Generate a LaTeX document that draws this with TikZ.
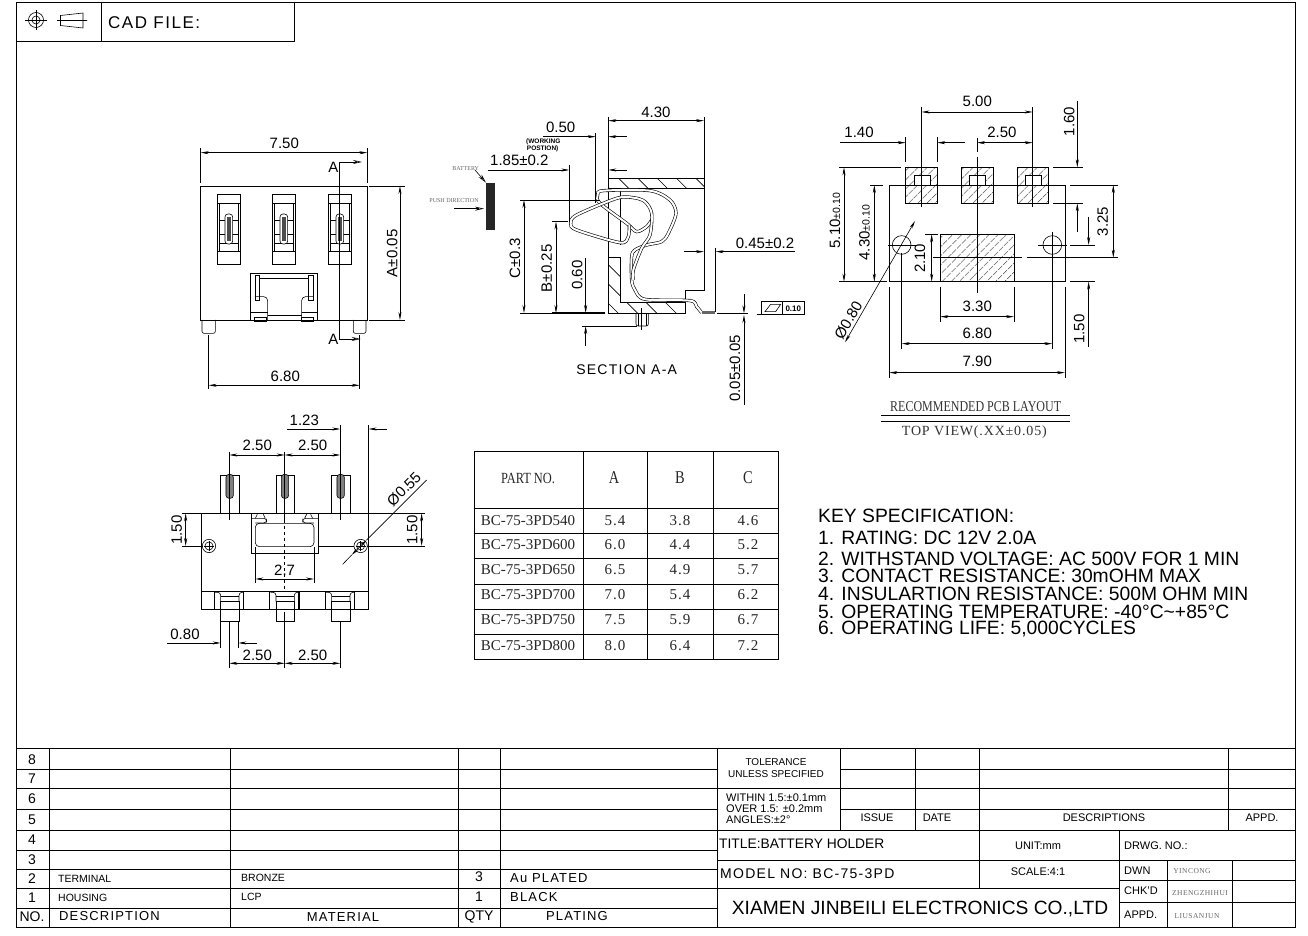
\documentclass[tikz,border=0pt]{standalone}
\usepackage{fontspec}
\usetikzlibrary{arrows.meta,patterns.meta}
\setmainfont{Liberation Sans}
\newfontfamily\serifcad[LetterSpace=6]{Liberation Serif}
\newfontfamily\serifnarrow[FakeStretch=.8]{Liberation Serif}
\newfontfamily\serifplain{Liberation Serif}
\newfontfamily\widecad[LetterSpace=9]{Liberation Sans}
\tikzset{
	view/.style={x=.3333pt, y=-.3333pt},
	thin line/.style={line width=.6pt},
	part/.style={line width=.9pt},
	heavy/.style={line width=1.6pt},
	dimline/.style={line width=.6pt, <->, >={Stealth[length=8pt,width=3pt]}},
	leader/.style={line width=.6pt, ->, >={Stealth[length=8pt,width=3pt]}},
	opentip/.style={line width=.6pt, ->, >={Stealth[open,length=9pt,width=4pt]}},
	dimtext/.style={inner sep=0pt, font=\fontsize{15}{15}\selectfont},
	note/.style={inner sep=0pt, text=gray!80!black, font=\serifplain\fontsize{6}{7}\selectfont},
	signer/.style={inner sep=0pt, text=gray!80!black, font=\serifcad\fontsize{7.5}{8}\selectfont},
	pcbtext/.style={inner sep=0pt, text=black!80, font=\serifnarrow\fontsize{15}{15}\selectfont},
	cell/.style={inner sep=0pt, text=black!85, font=\serifplain\fontsize{15}{15}\selectfont},
	cellvalue/.style={inner sep=0pt, text=black!85, font=\serifcad\fontsize{15}{15}\selectfont},
	cellhead/.style={inner sep=0pt, text=black!85, font=\serifnarrow\fontsize{18}{18}\selectfont},
	spec/.style={inner sep=0pt, anchor=west, font=\fontsize{19.3}{19}\selectfont},
	tabletext/.style={inner sep=0pt, font=\fontsize{14}{14}\selectfont},
	smalltext/.style={inner sep=0pt, anchor=west, font=\fontsize{10.5}{11}\selectfont},
	widetext/.style={inner sep=0pt, font=\widecad\fontsize{13}{13}\selectfont},
	tiny label/.style={inner sep=0pt, font=\fontsize{11}{11}\selectfont},
	tol label/.style={inner sep=0pt, font=\fontsize{10}{10}\selectfont},
	strip/.style={line width=.6pt, double, double distance=2pt},
	hatch a/.style={pattern={Lines[angle=45,distance=6.5pt,line width=.7pt]}},
}
\begin{document}
\begin{tikzpicture}[x=1pt, y=-1pt]
	\useasboundingbox (0,0) rectangle (1308,936);

	% frame and header
	\draw[part] (16,927) -- (16,2) -- (1295,2) -- (1295,927) -- cycle;
	\draw[part] (16,41) -- (294,41) -- (294,2);
	\draw[part] (101,2) -- (101,41);
	\draw[thin line] (36,20) circle (7.5) (36,20) circle (4);
	\draw[thin line] (25,20) -- (47,20) (36,10) -- (36,30);
	\draw[thin line] (60.5,15.5) -- (83,13) -- (83,28) -- (60.5,25.5) -- cycle (57,20.5) -- (87,20.5);
	\node[inner sep=0pt, anchor=west, font=\widecad\fontsize{17}{17}\selectfont] at (108,23) (cadfile) {CAD FILE:};

	% front view
	\begin{scope}[shift={(150,120)}, view]
		\draw[part] (152,198) rectangle (652,600);
		\foreach \dx in {0,165,333} {
			\begin{scope}[xshift=\dx*.3333pt]
				\draw[thin line] (202,222) rectangle (270,433);
				\draw[thin line] (202,250) -- (270,250) (202,393) -- (270,393);
				\draw[thin line] (208,250) -- (208,393) (265,250) -- (265,393);
				\draw[thin line] (208,302) -- (265,302) (208,342) -- (265,342) (208,370) -- (265,370);
				\draw[thin line, fill=white, rounded corners=3pt] (225,282) rectangle (248,372);
				\fill[black!70] (232,292) rectangle (242,362);
			\end{scope}
		}
		\draw[thin line] (302,460) rectangle (503,600);
		\draw[thin line] (330,475) -- (475,475) (315,465) rectangle (328,540) (476,465) rectangle (490,540);
		\draw[thin line, rounded corners=4pt] (315,530) -- (353,530) -- (353,600);
		\draw[thin line, rounded corners=4pt] (490,530) -- (455,530) -- (455,600);
		\draw[thin line] (302,578) -- (353,578) (455,578) -- (503,578) (353,586) -- (455,586);
		\draw[thin line] (312,592) rectangle (350,604) (455,592) rectangle (490,604);
		\draw[heavy] (208,602) -- (265,602) (540,602) -- (597,602);
		\draw[thin line, rounded corners=2pt] (156,600) -- (156,640) -- (196,640) -- (196,600);
		\draw[thin line, rounded corners=2pt] (610,600) -- (610,640) -- (648,640) -- (648,600);

		\draw[line width=.8pt] (568,126) -- (568,657);
		\draw[opentip] (568,126) -- (636,126);
		\draw[opentip] (568,657) -- (632,657);
		\node[dimtext] at (550,142) (secatop) {A};
		\node[dimtext] at (550,657) (secabot) {A};

		\draw[thin line] (152,85) -- (152,190) (652,85) -- (652,190);
		\draw[dimline] (152,98) -- (652,98);
		\node[dimtext] at (403,71) (d750) {7.50};
		\draw[thin line] (657,198) -- (765,198) (657,600) -- (765,600);
		\draw[dimline] (750,198) -- (750,600);
		\node[dimtext, rotate=90] at (727,400) (dapm) {A±0.05};
		\draw[thin line] (176,645) -- (176,808) (629,645) -- (629,808);
		\draw[dimline] (176,796) -- (629,796);
		\node[dimtext] at (406,768) (d680) {6.80};
	\end{scope}

	% section A-A
	\begin{scope}[shift={(420,95)}, view]
		\begin{scope}
			\clip (565,250) rectangle (852,280) (565,487) -- (600,487) -- (600,622) -- (797,622) -- (797,655) -- (565,655) -- cycle;
			\foreach \c in {-60,-2,...,600} \draw[thin line] (\c+200,200) -- (\c+700,700);
		\end{scope}
		\draw[part] (565,250) rectangle (852,280);
		\draw[part] (565,487) -- (600,487) -- (600,622) -- (797,622) -- (797,655) -- (565,655) -- cycle;
		\draw[part] (565,250) -- (565,487) (600,280) -- (600,450) (852,280) -- (852,585) -- (797,585) -- (797,622);
		\draw[strip] plot[smooth, tension=.5] coordinates {(845,653) (830,635) (810,617) (675,613) (645,585) (635,555) (635,485) (645,465) (680,450) (725,440) (745,415) (768,355) (750,315) (690,287) (550,287) (533,300) (540,325) (620,385) (650,410) (680,395) (695,375)};
		\draw[strip] plot[smooth, tension=.5] coordinates {(640,555) (640,525) (665,460) (690,420) (695,355) (675,320) (640,308) (590,310) (470,360) (452,385) (470,405) (600,443) (625,425) (628,390)};
		\fill[black!60] (845,648) rectangle (885,658);
		\draw[thin line, rounded corners=2pt] (648,655) -- (648,693) -- (685,693) -- (685,655);
		\draw[thin line] (655,655) -- (655,693) (678,655) -- (678,693) (665,640) -- (665,705);

		% battery
		\fill[black!85] (198,265) rectangle (225,405);
		\draw[opentip] (165,225) -- (198,263);
		\draw[opentip] (103,341) -- (192,341);
		\node[note] at (137,220) (battery) {BATTERY};
		\node[note] at (102,316) (push) {PUSH DIRECTION};

		\draw[thin line] (565,65) -- (565,250) (852,65) -- (852,250);
		\draw[dimline] (565,77) -- (852,77);
		\node[dimtext] at (708,52) (d430) {4.30};
		\draw[thin line] (527,115) -- (527,325);
		\draw[leader] (370,125) -- (527,125);
		\draw[leader] (620,125) -- (565,125);
		\node[dimtext] at (422,98) (d050) {0.50};
		\node[inner sep=0pt, font=\bfseries\fontsize{6.5}{7}\selectfont] at (370,140) (work) {(WORKING};
		\node[inner sep=0pt, font=\bfseries\fontsize{6.5}{7}\selectfont] at (368,162) (posi) {POSTION)};
		\draw[thin line] (448,210) -- (448,380);
		\draw[leader] (203,225) -- (448,225);
		\draw[leader] (620,225) -- (565,225);
		\node[dimtext] at (298,197) (d185) {1.85±0.2};
		\draw[thin line] (300,315) -- (540,315) (397,380) -- (445,380) (300,654) -- (397,654);
		\draw[heavy] (397,654) -- (555,654);
		\draw[dimline] (312,315) -- (312,654);
		\node[dimtext, rotate=90] at (285,490) (dc) {C±0.3};
		\draw[dimline] (408,380) -- (408,654);
		\node[dimtext, rotate=90] at (380,520) (db) {B±0.25};
		\draw[thin line] (485,693) -- (650,693);
		\draw[leader] (497,490) -- (497,654);
		\draw[leader] (497,752) -- (497,693);
		\node[dimtext, rotate=90] at (472,540) (d060) {0.60};
		\draw[thin line] (887,458) -- (887,650);
		\draw[leader] (793,470) -- (852,470);
		\draw[leader] (1125,470) -- (887,470);
		\node[dimtext] at (1035,445) (d045) {0.45±0.2};
		\draw[heavy] (890,655) -- (985,655);
		\draw[leader] (972,598) -- (972,655);
		\draw[leader] (972,930) -- (972,660);
		\node[dimtext, rotate=90] at (945,820) (d005) {0.05±0.05};
		\draw[thin line] (1010,657) -- (1025,657);
		\draw[part] (1025,620) rectangle (1153,658) (1088,620) -- (1088,658);
		\draw[thin line] (1035,650) -- (1052,628) -- (1082,628) -- (1067,650) -- cycle;
		\node[inner sep=0pt, font=\bfseries\fontsize{8}{8}\selectfont] at (1120,640) (d010) {0.10};
		\node[inner sep=0pt, font=\widecad\fontsize{14}{14}\selectfont] at (620,825) (seclabel) {SECTION A-A};
	\end{scope}

	% pcb layout
	\begin{scope}[shift={(820,90)}, view]
		\foreach \dx in {0,167,334} {
			\draw[thin line, hatch a] (257+\dx,232) rectangle (352+\dx,340);
			\draw[thin line, fill=white] (282+\dx,285) -- (282+\dx,255) -- (330+\dx,255) -- (330+\dx,285);
		}
		\draw[part] (208,285) rectangle (735,575);
		\draw[thin line, hatch a] (361,433) rectangle (582,575);
		\draw[thin line] (245,465) circle (28) (697,465) circle (28);
		\draw[thin line] (205,465) -- (290,465) (655,465) -- (740,465) (697,425) -- (697,490);
		\draw[thin line] (471,145) -- (471,185) (471,200) -- (471,610);
		\draw[thin line] (340,503) -- (605,503) (620,503) -- (895,503);

		\draw[thin line] (305,50) -- (305,352) (638,50) -- (638,352);
		\draw[dimline] (305,66) -- (638,66);
		\node[dimtext] at (472,35) (p500) {5.00};
		\draw[thin line] (257,142) -- (257,215) (352,142) -- (352,215);
		\draw[leader] (60,158) -- (257,158);
		\draw[leader] (435,158) -- (352,158);
		\node[dimtext] at (117,128) (p140) {1.40};
		\draw[dimline] (471,158) -- (638,158);
		\node[dimtext] at (546,128) (p250) {2.50};
		\draw[thin line] (700,232) -- (790,232) (700,340) -- (790,340);
		\draw[leader] (772,32) -- (772,232);
		\draw[leader] (772,425) -- (772,340);
		\node[dimtext, rotate=90] at (748,95) (p160) {1.60};
		\draw[thin line] (750,285) -- (895,285);
		\draw[dimline] (880,285) -- (880,503);
		\node[dimtext, rotate=90] at (848,395) (p325) {3.25};
		\draw[thin line] (750,465) -- (825,465) (750,575) -- (825,575);
		\draw[leader] (806,380) -- (806,465);
		\draw[leader] (806,772) -- (806,575);
		\node[dimtext, rotate=90] at (778,717) (p150) {1.50};
		\draw[thin line] (58,232) -- (243,232) (58,575) -- (200,575) (150,285) -- (190,285);
		\draw[dimline] (72,232) -- (72,575);
		\node[dimtext, rotate=90] at (45,392) (p510) {5.10{\fontsize{10.5}{11}\selectfont ±0.10}};
		\draw[dimline] (163,285) -- (163,575);
		\node[dimtext, rotate=90] at (133,428) (p430) {4.30{\fontsize{10.5}{11}\selectfont ±0.10}};
		\draw[thin line] (315,433) -- (355,433) (315,575) -- (355,575);
		\draw[dimline] (335,433) -- (335,575);
		\node[dimtext, rotate=90] at (300,505) (p210) {2.10};
		\draw[thin line] (361,590) -- (361,695) (582,590) -- (582,695);
		\draw[dimline] (361,680) -- (582,680);
		\node[dimtext] at (472,648) (p330) {3.30};
		\draw[thin line] (245,490) -- (245,778) (697,490) -- (697,778);
		\draw[dimline] (245,761) -- (697,761);
		\node[dimtext] at (472,730) (p680) {6.80};
		\draw[thin line] (208,590) -- (208,865) (735,590) -- (735,865);
		\draw[dimline] (208,848) -- (735,848);
		\node[dimtext] at (472,815) (p790) {7.90};
		\draw[dimline] (285,393) -- (75,757);
		\node[dimtext, rotate=60] at (85,690) (p080) {Ø0.80};

		\draw[thin line] (183,975) -- (750,975) (183,995) -- (750,995);
		\node[pcbtext] at (467,950) (pcbname) {RECOMMENDED PCB LAYOUT};
		\node[pcbtext, font=\serifcad\fontsize{14}{14}\selectfont] at (463,1025) (pcbview) {TOP VIEW(.XX±0.05)};
	\end{scope}

	% bottom view
	\begin{scope}[shift={(150,405)}, view]
		\draw[part] (154,325) rectangle (656,612);
		\draw[part] (154,558) -- (656,558);
		\foreach \cx in {238,404,571} {
			\draw[thin line] (\cx-26,212) rectangle (\cx+29,325);
			\draw[thin line, fill=black!50, rounded corners=3pt] (\cx-10,208) rectangle (\cx+12,280);
			\draw[thin line] (\cx-26,590) rectangle (\cx+29,648);
			\draw[heavy] (\cx-26,575) -- (\cx+29,575);
			\draw[thin line, rounded corners=3pt] (\cx-26,590) -- (\cx-26,562) -- (\cx-43,562);
			\draw[thin line, rounded corners=3pt] (\cx+29,590) -- (\cx+29,562) -- (\cx+43,562);
			\draw[heavy] (\cx-45,558) -- (\cx-45,612) (\cx+43,558) -- (\cx+43,612);
		}
		\draw[thin line] (304,325) rectangle (506,445);
		\draw[thin line, rounded corners=4pt] (316,355) rectangle (492,425);
		\draw[thin line, rounded corners=3pt] (304,340) -- (350,340) -- (350,354) -- (316,354);
		\draw[thin line, rounded corners=3pt] (506,340) -- (458,340) -- (458,354) -- (492,354);
		\draw[thin line] (316,340) -- (322,328) (346,340) -- (340,328) (464,340) -- (470,328) (488,340) -- (482,328);
		\draw[heavy] (330,326) -- (480,326);
		\draw[thin line, dashed] (404,345) -- (404,555);
		\draw[thin line] (177,423) circle (20) (177,423) circle (12) (632,423) circle (20) (632,423) circle (12);
		\draw[thin line] (162,423) -- (192,423) (177,408) -- (177,438) (617,423) -- (647,423) (632,408) -- (632,438);

		\draw[thin line] (238,140) -- (238,345) (404,140) -- (404,345) (571,60) -- (571,345) (656,60) -- (656,325);
		\draw[dimline] (238,150) -- (404,150);
		\draw[dimline] (404,150) -- (571,150);
		\node[dimtext] at (322,122) (b250a) {2.50};
		\node[dimtext] at (488,122) (b250b) {2.50};
		\draw[leader] (412,72) -- (571,72);
		\draw[leader] (710,72) -- (656,72);
		\node[dimtext] at (463,47) (b123) {1.23};
		\draw[dimline] (650,405) -- (605,450);
		\draw[thin line] (830,225) -- (650,405) (605,450) -- (578,478);
		\node[dimtext, rotate=45] at (762,252) (b055) {Ø0.55};
		\draw[thin line] (95,325) -- (154,325) (95,423) -- (160,423) (656,325) -- (825,325) (505,423) -- (612,423) (650,423) -- (825,423);
		\draw[dimline] (107,325) -- (107,423);
		\node[dimtext, rotate=90] at (80,375) (b150a) {1.50};
		\draw[dimline] (815,325) -- (815,423);
		\node[dimtext, rotate=90] at (787,375) (b150b) {1.50};
		\draw[thin line] (316,425) -- (316,535) (492,425) -- (492,535);
		\draw[dimline] (316,522) -- (492,522);
		\node[dimtext] at (404,497) (b27) {2.7};
		\draw[thin line] (212,650) -- (212,730) (265,650) -- (265,730);
		\draw[leader] (52,714) -- (212,714);
		\draw[leader] (322,714) -- (265,714);
		\node[dimtext] at (105,687) (b080) {0.80};
		\draw[thin line] (238,650) -- (238,790) (404,620) -- (404,790) (571,650) -- (571,790);
		\draw[dimline] (238,775) -- (404,775);
		\draw[dimline] (404,775) -- (571,775);
		\node[dimtext] at (322,750) (b250c) {2.50};
		\node[dimtext] at (488,750) (b250d) {2.50};
	\end{scope}

	% part table
	\draw[part] (474,451) rectangle (778,659);
	\foreach \vx in {583,647,713} \draw[part] (\vx,451) -- (\vx,659);
	\foreach \hy in {508,533,558,584,609,634} \draw[part] (474,\hy) -- (778,\hy);
	\node[cell, font=\serifnarrow\fontsize{15.5}{15}\selectfont] at (528,478) (partno) {PART NO.};
	\node[cellhead] at (614,478) (cola) {A};
	\node[cellhead] at (680,478) (colb) {B};
	\node[cellhead] at (748,478) (colc) {C};
	\foreach \yy/\pn/\va/\vb/\vc in {521/540/5.4/3.8/4.6, 545/600/6.0/4.4/5.2, 570/650/6.5/4.9/5.7, 595/700/7.0/5.4/6.2, 620/750/7.5/5.9/6.7, 646/800/8.0/6.4/7.2} {
		\node[cell] at (528,\yy) {BC-75-3PD\pn};
		\node[cellvalue] at (615,\yy) {\va};
		\node[cellvalue] at (680,\yy) {\vb};
		\node[cellvalue] at (748,\yy) {\vc};
	}

	% key specification
	\node[spec] at (818,516) (spec0) {KEY SPECIFICATION:};
	\node[spec] at (818,538) (spec1) {1. RATING: DC 12V 2.0A};
	\node[spec] at (818,559) (spec2) {2. WITHSTAND VOLTAGE: AC 500V FOR 1 MIN};
	\node[spec] at (818,576) (spec3) {3. CONTACT RESISTANCE: 30mOHM MAX};
	\node[spec] at (818,594) (spec4) {4. INSULARTION RESISTANCE: 500M OHM MIN};
	\node[spec] at (818,612) (spec5) {5. OPERATING TEMPERATURE: -40°C\textasciitilde+85°C};
	\node[spec] at (818,629) (spec6) {6. OPERATING LIFE: 5,000CYCLES};

	% parts list
	\draw[part] (16,748) -- (1295,748);
	\foreach \hy in {769,788,809,830,850,869,888,908} \draw[thin line] (16,\hy) -- (717,\hy);
	\foreach \vx in {49,230,458,500,717} \draw[thin line] (\vx,748) -- (\vx,927);
	\foreach \num/\yy in {8/760,7/779,6/799,5/820,4/840,3/860,2/879,1/898} \node[tabletext] at (32,\yy) {\num};
	\node[smalltext] at (58,879) (term) {TERMINAL};
	\node[smalltext] at (58,898) (hous) {HOUSING};
	\node[smalltext] at (241,878) (bronze) {BRONZE};
	\node[smalltext] at (241,897) (lcp) {LCP};
	\node[tabletext] at (479,877) (q3) {3};
	\node[tabletext] at (479,897) (q1) {1};
	\node[widetext, anchor=west] at (510,878) (plated) {Au PLATED};
	\node[widetext, anchor=west] at (510,897) (black) {BLACK};
	\node[tabletext] at (32,917) (hno) {NO.};
	\node[widetext, anchor=west] at (59,916) (hdesc) {DESCRIPTION};
	\node[widetext] at (343,917) (hmat) {MATERIAL};
	\node[tabletext] at (479,917) (hqty) {QTY};
	\node[widetext] at (577,916) (hplat) {PLATING};

	% title block
	\foreach \vx in {840,915,979,1228} \draw[thin line] (\vx,748) -- (\vx,830);
	\draw[thin line] (840,769) -- (1295,769) (717,788) -- (1295,788) (840,809) -- (1295,809);
	\draw[thin line] (717,830) -- (1295,830) (717,860) -- (1295,860) (717,888) -- (1119,888);
	\draw[thin line] (979,830) -- (979,888) (1119,830) -- (1119,927);
	\draw[thin line] (1119,880) -- (1295,880) (1119,902) -- (1295,902);
	\draw[thin line] (1167,860) -- (1167,927) (1232,860) -- (1232,927);
	\node[tol label] at (776,762) (tol1) {TOLERANCE};
	\node[tol label] at (776,774) (tol2) {UNLESS SPECIFIED};
	\node[tiny label, anchor=west] at (726,798) (tol3) {WITHIN 1.5:±0.1mm};
	\node[tiny label, anchor=west] at (726,809) (tol4) {OVER 1.5: ±0.2mm};
	\node[tiny label, anchor=west] at (726,820) (tol5) {ANGLES:±2°};
	\node[tiny label] at (877,818) (hissue) {ISSUE};
	\node[tiny label] at (937,818) (hdate) {DATE};
	\node[tiny label] at (1104,818) (hdesc2) {DESCRIPTIONS};
	\node[tiny label] at (1262,818) (happd) {APPD.};
	\node[inner sep=0pt, anchor=west, font=\fontsize{13.8}{14}\selectfont] at (719,844) (title) {TITLE:BATTERY HOLDER};
	\node[inner sep=0pt, anchor=west, font=\widecad\fontsize{14}{14}\selectfont] at (720,874) (model) {MODEL NO: BC-75-3PD};
	\node[tiny label] at (1038,846) (unit) {UNIT:mm};
	\node[tiny label] at (1038,872) (scale) {SCALE:4:1};
	\node[tiny label, anchor=west] at (1124,846) (drwg) {DRWG. NO.:};
	\node[tiny label, anchor=west] at (1124,871) (dwn) {DWN};
	\node[tiny label, anchor=west] at (1124,891) (chk) {CHK'D};
	\node[tiny label, anchor=west] at (1124,915) (appd) {APPD.};
	\node[signer] at (1192,871) (yin) {YINCONG};
	\node[signer] at (1200,893) (zheng) {ZHENGZHIHUI};
	\node[signer] at (1197,916) (liu) {LIUSANJUN};
	\node[inner sep=0pt, font=\fontsize{19.2}{19}\selectfont] at (920,909) (company) {XIAMEN JINBEILI ELECTRONICS CO.,LTD};
\end{tikzpicture}
\end{document}
